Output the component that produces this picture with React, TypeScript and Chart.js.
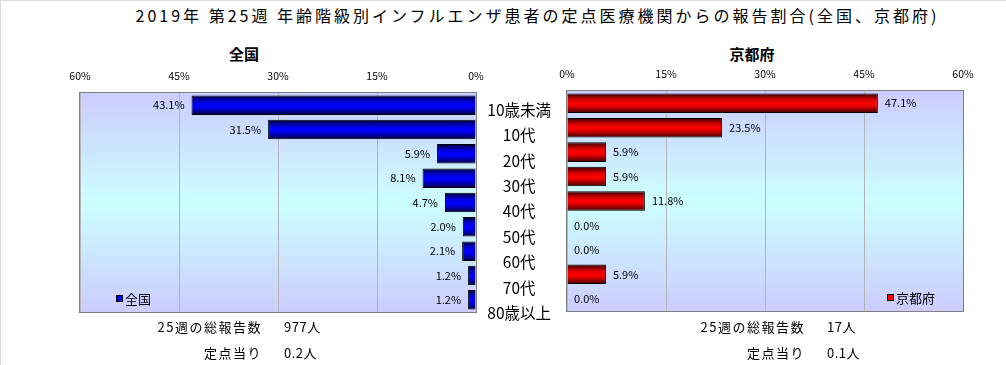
import React, { useEffect, useRef } from "react";
import { Chart, registerables } from "chart.js";

Chart.register(...registerables);

// ---- data ----
const categories = ["10歳未満", "10代", "20代", "30代", "40代", "50代", "60代", "70代", "80歳以上"];
const nationalValues = [43.1, 31.5, 5.9, 8.1, 4.7, 2.0, 2.1, 1.2, 1.2];
const kyotoValues = [47.1, 23.5, 5.9, 5.9, 11.8, 0.0, 0.0, 5.9, 0.0];
const axisTicks = [0, 15, 30, 45, 60];
const titleText = "2019年 第25週 年齢階級別インフルエンザ患者の定点医療機関からの報告割合(全国、京都府)";
const nationalName = "全国";
const kyotoName = "京都府";
const weekNo = 25;
const nationalTotal = 977;
const nationalPerSite = 0.2;
const kyotoTotal = 17;
const kyotoPerSite = 0.1;

const FONT = '"Noto Sans CJK JP", "Noto Sans", sans-serif';

const BLUE_STOPS: [number, string][] = [
  [0, "#000030"],
  [0.3, "#0000d0"],
  [0.5, "#0000ff"],
  [0.62, "#0000f0"],
  [1, "#000040"],
];
const RED_STOPS: [number, string][] = [
  [0, "#300000"],
  [0.3, "#d00000"],
  [0.5, "#ff0000"],
  [0.62, "#f00000"],
  [1, "#400000"],
];

function barGradient(stops: [number, string][]) {
  return (c: any) => {
    const chart = c.chart;
    const ys = chart.scales && chart.scales.y;
    if (!ys || c.dataIndex === undefined) return stops[2][1];
    const center = ys.getPixelForValue(c.dataIndex);
    const h = (ys.height / categories.length) * 0.8;
    if (!Number.isFinite(center) || !Number.isFinite(h) || h <= 0) return stops[2][1];
    const g = chart.ctx.createLinearGradient(0, center - h / 2, 0, center + h / 2);
    stops.forEach(([o, col]) => g.addColorStop(o, col));
    return g;
  };
}

const backgroundPlugin = {
  id: "plotBg",
  beforeDraw(chart: any) {
    const a = chart.chartArea;
    if (!a) return;
    const ctx = chart.ctx;
    const g = ctx.createLinearGradient(0, a.top, 0, a.bottom);
    g.addColorStop(0, "#ccccff");
    g.addColorStop(0.5, "#ccffff");
    g.addColorStop(1, "#ccccff");
    ctx.save();
    ctx.fillStyle = g;
    ctx.fillRect(a.left, a.top, a.right - a.left, a.bottom - a.top);
    ctx.restore();
  },
  beforeDatasetsDraw(chart: any) {
    const a = chart.chartArea;
    const ctx = chart.ctx;
    ctx.save();
    ctx.strokeStyle = "#808080";
    ctx.lineWidth = 1;
    ctx.strokeRect(a.left - 0.5, a.top - 0.5, a.right - a.left + 1, a.bottom - a.top + 1);
    ctx.restore();
  },
};

const barLabelPlugin = {
  id: "barLabels",
  afterDatasetsDraw(chart: any, _args: any, opts: any) {
    const ctx = chart.ctx;
    const meta = chart.getDatasetMeta(0);
    const data = chart.data.datasets[0].data as number[];
    ctx.save();
    ctx.font = `11px ${FONT}`;
    ctx.fillStyle = "#000";
    ctx.textBaseline = "middle";
    meta.data.forEach((el: any, i: number) => {
      const txt = data[i].toFixed(1) + "%";
      if (opts.side === "left") {
        ctx.textAlign = "right";
        ctx.fillText(txt, el.x - 7, el.y);
      } else {
        ctx.textAlign = "left";
        ctx.fillText(txt, el.x + 7, el.y);
      }
    });
    ctx.restore();
  },
};

const boxLegendPlugin = {
  id: "boxLegend",
  afterDraw(chart: any, _args: any, opts: any) {
    const a = chart.chartArea;
    const ctx = chart.ctx;
    const label = chart.data.datasets[0].label;
    ctx.save();
    ctx.font = `13px ${FONT}`;
    const tw = ctx.measureText(label).width;
    const cy = a.bottom - 13;
    const x0 = opts.side === "left" ? a.left + 36 : a.right - 28 - tw - 9;
    ctx.fillStyle = opts.color;
    ctx.fillRect(x0 + 0.5, cy - 3.5, 6, 6);
    ctx.strokeStyle = "#000";
    ctx.lineWidth = 1;
    ctx.strokeRect(x0 + 0.5, cy - 3.5, 6, 6);
    ctx.fillStyle = "#000";
    ctx.textBaseline = "middle";
    ctx.textAlign = "left";
    ctx.fillText(label, x0 + 9, cy);
    ctx.restore();
  },
};

function sideConfig(side: "left" | "right", values: number[], name: string, stops: [number, string][], legendColor: string, padding: any): any {
  return {
    type: "bar",
    data: {
      labels: categories,
      datasets: [
        {
          label: name,
          data: values,
          backgroundColor: barGradient(stops),
          borderColor: "#000",
          borderWidth: 1,
          barPercentage: 0.8,
          categoryPercentage: 1,
        },
      ],
    },
    plugins: [backgroundPlugin, barLabelPlugin, boxLegendPlugin],
    options: {
      animation: false,
      responsive: false,
      indexAxis: "y",
      layout: { padding },
      plugins: {
        legend: { display: false },
        tooltip: { enabled: false },
        barLabels: { side },
        boxLegend: { side, color: legendColor },
      },
      scales: {
        x: {
          type: "linear",
          position: "top",
          reverse: side === "left",
          min: axisTicks[0],
          max: axisTicks[axisTicks.length - 1],
          afterBuildTicks: (s: any) => {
            s.ticks = axisTicks.map((v) => ({ value: v }));
          },
          ticks: {
            callback: (v: any) => `${v}%`,
            color: "#000",
            font: { family: FONT, size: 10.5 },
            padding: 11,
            maxRotation: 0,
          },
          grid: { color: "#b4b4b4", drawTicks: false },
          border: { display: false },
          afterFit: (s: any) => {
            s.height = 33;
          },
        },
        y: {
          type: "category",
          display: false,
        },
      },
    },
  };
}

function labelsConfig(): any {
  return {
    type: "bar",
    data: { labels: categories, datasets: [{ label: "", data: [] }] },
    options: {
      animation: false,
      responsive: false,
      indexAxis: "y",
      layout: { padding: { top: 12, bottom: 12, left: 0, right: 0 } },
      plugins: { legend: { display: false }, tooltip: { enabled: false } },
      scales: {
        x: { display: false },
        y: {
          type: "category",
          position: "left",
          grid: { display: false, drawTicks: false },
          border: { display: false },
          ticks: {
            crossAlign: "center",
            padding: 0,
            autoSkip: false,
            color: "#000",
            font: { family: FONT, size: 15.5 },
          },
          afterFit: (s: any) => {
            s.width = 90;
          },
        },
      },
    },
  };
}

function ChartCanvas({ config, left, top, width, height }: any) {
  const ref = useRef<HTMLCanvasElement | null>(null);
  useEffect(() => {
    if (!ref.current) return;
    const chart = new Chart(ref.current, config());
    return () => chart.destroy();
  }, []);
  return (
    <canvas
      ref={ref}
      width={width}
      height={height}
      style={{ position: "absolute", left, top, width, height }}
    />
  );
}

const textBase: React.CSSProperties = {
  position: "absolute",
  fontFamily: FONT,
  color: "#000",
  whiteSpace: "nowrap",
};

function Stat({ labelRight, valueLeft, y, label, value }: any) {
  return (
    <>
      <div style={{ ...textBase, fontSize: 13, letterSpacing: 1.5, lineHeight: "16px", top: y - 8, right: 1006 - labelRight }}>{label}</div>
      <div style={{ ...textBase, fontSize: 13, letterSpacing: 0.5, lineHeight: "16px", top: y - 8, left: valueLeft }}>{value}</div>
    </>
  );
}

export default function App() {
  return (
    <div
      style={{
        position: "absolute",
        left: 0,
        top: 0,
        width: 1006,
        height: 365,
        background: "#fff",
        borderTop: "1px solid #dcdcdc",
        borderLeft: "1px solid #dcdcdc",
        boxSizing: "border-box",
        overflow: "hidden",
      }}
    >
      <div
        style={{
          ...textBase,
          left: 0,
          width: 1073,
          top: 4,
          textAlign: "center",
          fontSize: 16,
          lineHeight: "20px",
          letterSpacing: 3,
        }}
      >
        {titleText}
      </div>
      <div style={{ ...textBase, left: 143, width: 200, top: 43, textAlign: "center", fontSize: 15, fontWeight: 700, lineHeight: "20px" }}>
        {nationalName}
      </div>
      <div style={{ ...textBase, left: 651, width: 200, top: 43, textAlign: "center", fontSize: 15, fontWeight: 700, lineHeight: "20px" }}>
        {kyotoName}
      </div>

      <ChartCanvas
        config={() => sideConfig("left", nationalValues, nationalName, BLUE_STOPS, "#0000ff", { top: 60, left: 80, right: 24, bottom: 18 })}
        left={-1}
        top={-1}
        width={500}
        height={330}
      />
      <ChartCanvas
        config={() => sideConfig("right", kyotoValues, kyotoName, RED_STOPS, "#ff0000", { top: 58, left: 27, right: 43, bottom: 19 })}
        left={539}
        top={-1}
        width={466}
        height={330}
      />
      <ChartCanvas config={labelsConfig} left={460} top={84} width={92} height={253} />

      <Stat labelRight={262} valueLeft={283} y={326} label={`${weekNo}週の総報告数`} value={`${nationalTotal}人`} />
      <Stat labelRight={262} valueLeft={283} y={352} label="定点当り" value={`${nationalPerSite}人`} />
      <Stat labelRight={805} valueLeft={826} y={326} label={`${weekNo}週の総報告数`} value={`${kyotoTotal}人`} />
      <Stat labelRight={805} valueLeft={826} y={352} label="定点当り" value={`${kyotoPerSite}人`} />
    </div>
  );
}
